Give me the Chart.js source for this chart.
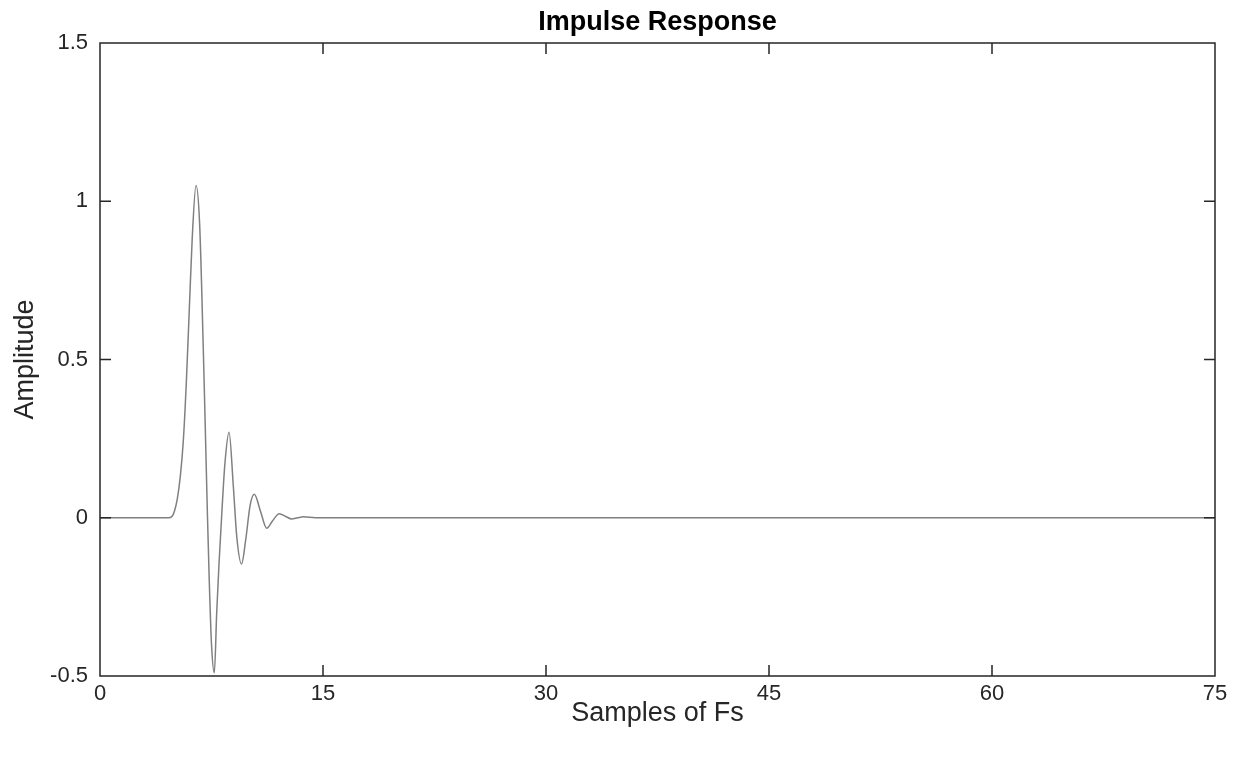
<!DOCTYPE html>
<html>
<head>
<meta charset="utf-8">
<script src="https://cdn.jsdelivr.net/npm/chart.js"></script>
<style>
  html, body { margin: 0; padding: 0; background: #fff; }
  #wrap { width: 1236px; height: 759px; }
</style>
</head>
<body>
<div id="wrap"><canvas id="myChart"></canvas></div>
<script>
// samples (x in units of Fs) and amplitude
const sampleX = [0, 4.6, 4.85, 5.0, 5.2, 5.4, 5.6, 5.8, 6.0, 6.2, 6.46, 6.7, 6.95, 7.1, 7.22, 7.35, 7.5, 7.69, 7.85, 8.0, 8.2, 8.4, 8.68, 8.97, 9.2, 9.52, 9.8, 10.1, 10.38, 10.8, 11.21, 11.6, 12.06, 12.5, 12.89, 13.3, 13.67, 14.5, 75];
const amplitude = [0, 0, 0.005, 0.02, 0.06, 0.13, 0.24, 0.42, 0.65, 0.88, 1.05, 0.93, 0.53, 0.25, 0.02, -0.2, -0.4, -0.49, -0.3, -0.15, 0.02, 0.17, 0.27, 0.098, -0.06, -0.146, -0.07, 0.04, 0.074, 0.02, -0.033, -0.01, 0.013, 0.004, -0.004, 0.0, 0.003, 0, 0];
const xTicks = [0, 15, 30, 45, 60, 75];
const yTicks = [-0.5, 0, 0.5, 1, 1.5];

const axisColor = '#262626';
const fontFam = "'Liberation Sans', Arial, Helvetica, sans-serif";

// matlab style box with inward ticks on all four sides
const boxPlugin = {
  id: 'box',
  afterDraw(chart) {
    const ctx = chart.ctx;
    const a = chart.chartArea;
    const xs = chart.scales.x, ys = chart.scales.y;
    const len = 11;
    ctx.save();
    ctx.strokeStyle = axisColor;
    ctx.lineWidth = 1.5;
    ctx.beginPath();
    ctx.rect(a.left, a.top, a.right - a.left, a.bottom - a.top);
    xTicks.forEach(v => {
      const px = xs.getPixelForValue(v);
      ctx.moveTo(px, a.bottom); ctx.lineTo(px, a.bottom - len);
      ctx.moveTo(px, a.top); ctx.lineTo(px, a.top + len);
    });
    yTicks.forEach(v => {
      const py = ys.getPixelForValue(v);
      ctx.moveTo(a.left, py); ctx.lineTo(a.left + len, py);
      ctx.moveTo(a.right, py); ctx.lineTo(a.right - len, py);
    });
    ctx.stroke();
    ctx.restore();
  }
};

const points = sampleX.map((x, i) => ({ x: x, y: amplitude[i] }));

new Chart(document.getElementById('myChart'), {
  type: 'line',
  data: {
    datasets: [{
      data: points,
      borderColor: '#808080',
      borderWidth: 1.5,
      pointRadius: 0,
      fill: false,
      cubicInterpolationMode: 'monotone'
    }]
  },
  options: {
    responsive: true,
    maintainAspectRatio: false,
    animation: false,
    layout: { padding: { left: 0, right: 21, top: 0, bottom: 0 } },
    plugins: {
      legend: { display: false },
      tooltip: { enabled: false },
      title: {
        display: true,
        text: 'Impulse Response',
        fullSize: false,
        color: '#000',
        font: { family: fontFam, size: 27, weight: 'bold' },
        padding: { top: 6, bottom: 4.6 }
      }
    },
    scales: {
      x: {
        type: 'linear',
        min: 0, max: 75,
        afterBuildTicks: s => { s.ticks = xTicks.map(v => ({ value: v })); },
        afterFit: s => { s.height = 83; },
        grid: { display: false, drawTicks: false },
        border: { display: false },
        ticks: { color: axisColor, padding: 5, maxRotation: 0, font: { family: fontFam, size: 22 } },
        title: {
          display: true, text: 'Samples of Fs', color: axisColor,
          font: { family: fontFam, size: 27 }, padding: { top: 0, bottom: 29 }
        }
      },
      y: {
        min: -0.5, max: 1.5,
        afterBuildTicks: s => { s.ticks = yTicks.map(v => ({ value: v })); },
        afterFit: s => { s.width = 100; },
        grid: { display: false, drawTicks: false },
        border: { display: false },
        ticks: {
          color: axisColor, padding: 12, font: { family: fontFam, size: 22 },
          callback: v => String(v)
        },
        title: {
          display: true, text: 'Amplitude', color: axisColor,
          font: { family: fontFam, size: 27 }, padding: { top: 9, bottom: 0 }
        }
      }
    }
  },
  plugins: [boxPlugin]
});
</script>
</body>
</html>
